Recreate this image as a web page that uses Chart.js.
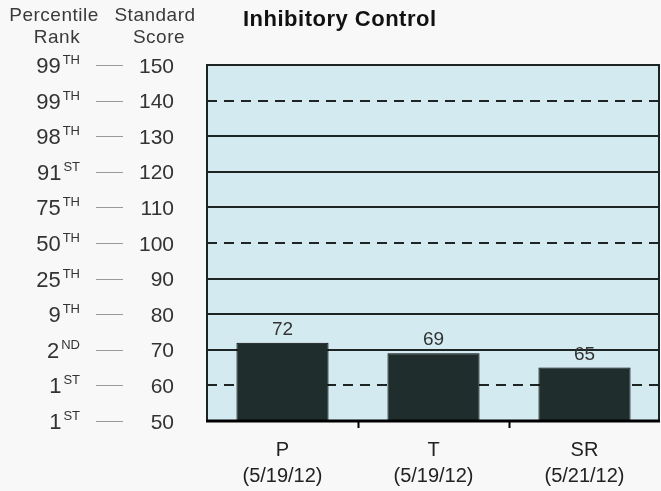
<!DOCTYPE html>
<html>
<head>
<meta charset="utf-8">
<script src="https://cdn.jsdelivr.net/npm/chart.js@4.4.0/dist/chart.umd.min.js"></script>
<style>
  html, body { margin: 0; padding: 0; background: #f8f8f8; }
  #wrap { width: 661px; height: 491px; }
</style>
</head>
<body>
<div id="wrap"><canvas id="chart" width="661" height="491"></canvas></div>
<script>
// data
const categories = [["P", "(5/19/12)"], ["T", "(5/19/12)"], ["SR", "(5/21/12)"]];
const scores = [72, 69, 65];
const scoreTicks = [150, 140, 130, 120, 110, 100, 90, 80, 70, 60, 50];
const percentileMain = ["99", "99", "98", "91", "75", "50", "25", "9", "2", "1", "1"];
const percentileSup = ["TH", "TH", "TH", "ST", "TH", "TH", "TH", "TH", "ND", "ST", "ST"];
const dashedLines = [140, 100, 60];
const chartTitle = "Inhibitory Control";

const font = "'Liberation Sans', Arial, sans-serif";

const decorPlugin = {
  id: "decor",
  beforeDraw(chart) {
    const ctx = chart.ctx;
    const a = chart.chartArea;
    ctx.save();
    ctx.fillStyle = "#f8f8f8";
    ctx.fillRect(0, 0, chart.width, chart.height);
    ctx.fillStyle = "#d3eaf0";
    ctx.fillRect(a.left, a.top, a.right - a.left, a.bottom - a.top);
    ctx.restore();
  },
  beforeDatasetsDraw(chart) {
    const ctx = chart.ctx;
    const a = chart.chartArea;
    const y = chart.scales.y;
    ctx.save();
    scoreTicks.forEach((v) => {
      if (v === 150 || v === 50) return;
      const py = Math.round(y.getPixelForValue(v));
      ctx.beginPath();
      ctx.strokeStyle = "#1c2424";
      ctx.lineWidth = 2;
      ctx.setLineDash(dashedLines.includes(v) ? [10, 7] : []);
      ctx.moveTo(a.left, py);
      ctx.lineTo(a.right, py);
      ctx.stroke();
    });
    ctx.restore();
  },
  afterDatasetsDraw(chart) {
    const ctx = chart.ctx;
    const a = chart.chartArea;
    ctx.save();
    // frame
    ctx.strokeStyle = "#1c2424";
    ctx.lineWidth = 2;
    ctx.beginPath();
    ctx.moveTo(a.left, a.bottom);
    ctx.lineTo(a.left, a.top);
    ctx.lineTo(a.right - 1, a.top);
    ctx.lineTo(a.right - 1, a.bottom);
    ctx.stroke();
    ctx.strokeStyle = "#000";
    ctx.lineWidth = 3;
    ctx.beginPath();
    ctx.moveTo(a.left - 1, a.bottom);
    ctx.lineTo(a.right, a.bottom);
    ctx.stroke();
    // values above bars
    const meta = chart.getDatasetMeta(0);
    ctx.fillStyle = "#333";
    ctx.font = "19px " + font;
    ctx.textAlign = "center";
    ctx.textBaseline = "alphabetic";
    meta.data.forEach((bar, i) => {
      ctx.fillText(String(scores[i]), bar.x, bar.y - 8);
    });
    ctx.restore();
  },
  afterDraw(chart) {
    const ctx = chart.ctx;
    const y = chart.scales.y;
    ctx.save();
    // headers
    ctx.fillStyle = "#3a3a3a";
    ctx.font = "19px " + font;
    ctx.letterSpacing = "0.5px";
    ctx.textAlign = "center";
    ctx.textBaseline = "middle";
    ctx.fillText("Percentile", 54, 16);
    ctx.fillText("Rank", 57, 38);
    ctx.fillText("Standard", 155, 16);
    ctx.fillText("Score", 159, 38);
    // title
    ctx.fillStyle = "#111";
    ctx.font = "bold 22px " + font;
    ctx.textAlign = "left";
    ctx.fillText(chartTitle, 243, 20);
    ctx.letterSpacing = "0px";
    // tick rows
    scoreTicks.forEach((v, i) => {
      const py = y.getPixelForValue(v);
      ctx.textBaseline = "alphabetic";
      ctx.font = "13px " + font;
      const supW = ctx.measureText(percentileSup[i]).width;
      ctx.fillStyle = "#333";
      ctx.textAlign = "right";
      ctx.fillText(percentileSup[i], 80, py - 1);
      ctx.font = "22px " + font;
      ctx.fillText(percentileMain[i], 80 - supW - 2, py + 8);
      ctx.font = "21px " + font;
      ctx.fillText(String(v), 174, py + 7.5);
      ctx.strokeStyle = "#999";
      ctx.lineWidth = 1;
      ctx.beginPath();
      ctx.moveTo(96, Math.round(py) + 0.5);
      ctx.lineTo(123, Math.round(py) + 0.5);
      ctx.stroke();
    });
    ctx.restore();
  }
};

new Chart(document.getElementById("chart"), {
  type: "bar",
  data: {
    labels: categories,
    datasets: [{
      data: scores,
      backgroundColor: "#1f2d2d",
      borderColor: "#000",
      borderWidth: 1,
      barPercentage: 0.61,
      categoryPercentage: 1
    }]
  },
  options: {
    responsive: false,
    animation: false,
    layout: { padding: { top: 65, right: 1, left: 0, bottom: 0 } },
    plugins: { legend: { display: false }, tooltip: { enabled: false } },
    scales: {
      y: {
        min: 50,
        max: 150,
        ticks: { stepSize: 10, display: false },
        grid: { display: false },
        border: { display: false },
        afterFit(scale) { scale.width = 207; }
      },
      x: {
        ticks: {
          color: "#222",
          font: { family: font, size: 20, lineHeight: 1.3 },
          padding: 9
        },
        grid: {
          display: true,
          offset: true,
          drawOnChartArea: false,
          drawTicks: true,
          tickLength: 7,
          tickWidth: 2,
          tickColor: (c) => (c.index === 1 || c.index === 2) ? "#000" : "rgba(0,0,0,0)"
        },
        border: { display: false },
        afterFit(scale) { scale.height = 70; }
      }
    }
  },
  plugins: [decorPlugin]
});
</script>
</body>
</html>
